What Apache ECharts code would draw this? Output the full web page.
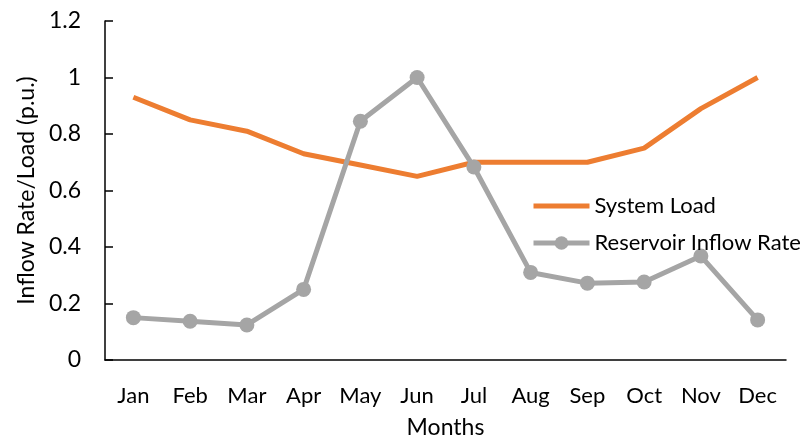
<!DOCTYPE html>
<html>
<head>
<meta charset="utf-8">
<script src="https://cdn.jsdelivr.net/npm/echarts@6/dist/echarts.min.js"></script>
<style>
  html, body { margin: 0; padding: 0; background: #fff; }
  #chart { width: 801px; height: 439px; }
</style>
</head>
<body>
<div id="chart"></div>
<script>
  // data
  var months = ['Jan', 'Feb', 'Mar', 'Apr', 'May', 'Jun', 'Jul', 'Aug', 'Sep', 'Oct', 'Nov', 'Dec'];
  var systemLoad = [0.93, 0.85, 0.81, 0.73, 0.69, 0.65, 0.70, 0.70, 0.70, 0.75, 0.89, 1.0];
  var inflowRate = [0.15, 0.137, 0.124, 0.25, 0.845, 1.0, 0.683, 0.31, 0.272, 0.276, 0.368, 0.142];

  var font = 'Lato, "Open Sans", sans-serif';

  var chart = echarts.init(document.getElementById('chart'));
  chart.setOption({
    animation: false,
    textStyle: { fontFamily: font },
    grid: { left: 105, right: 15, top: 21, bottom: 79, outerBoundsMode: 'none' },
    legend: {
      orient: 'vertical',
      left: 531,
      top: 195,
      padding: 0,
      itemWidth: 56,
      itemHeight: 17,
      itemGap: 15,
      lineStyle: { width: 5 },
      textStyle: { fontFamily: font, fontSize: 22, color: '#000', lineHeight: 17 },
      data: [
        { name: 'System Load', itemStyle: { opacity: 0 } },
        'Reservoir Inflow Rate'
      ]
    },
    xAxis: {
      type: 'category',
      data: months,
      name: 'Months',
      nameLocation: 'middle',
      nameGap: 56,
      nameTextStyle: { fontFamily: font, fontSize: 23, color: '#000' },
      axisLine: { lineStyle: { color: '#000', width: 1.5 } },
      axisTick: { alignWithLabel: true, length: 7, lineStyle: { color: '#000', width: 1.5 } },
      axisLabel: { fontFamily: font, fontSize: 22, color: '#000', margin: 25 }
    },
    yAxis: {
      type: 'value',
      min: 0,
      max: 1.2,
      interval: 0.2,
      name: 'Inflow Rate/Load (p.u.)',
      nameLocation: 'middle',
      nameGap: 67,
      nameTextStyle: { fontFamily: font, fontSize: 23, color: '#000' },
      axisLine: { show: true, lineStyle: { color: '#000', width: 1.5 } },
      axisTick: { show: true, inside: true, length: 8, lineStyle: { color: '#000', width: 1.5 } },
      splitLine: { show: false },
      axisLabel: {
        fontFamily: font, fontSize: 23, color: '#000', margin: 24,
        formatter: function (v) { return String(+v.toFixed(1)); }
      }
    },
    series: [
      {
        name: 'System Load',
        type: 'line',
        data: systemLoad,
        symbol: 'none',
        lineStyle: { color: '#ED7D31', width: 5 },
        itemStyle: { color: '#ED7D31' }
      },
      {
        name: 'Reservoir Inflow Rate',
        type: 'line',
        data: inflowRate,
        symbol: 'circle',
        symbolSize: 15,
        lineStyle: { color: '#A5A5A5', width: 5 },
        itemStyle: { color: '#A5A5A5' }
      }
    ]
  });
</script>
</body>
</html>
